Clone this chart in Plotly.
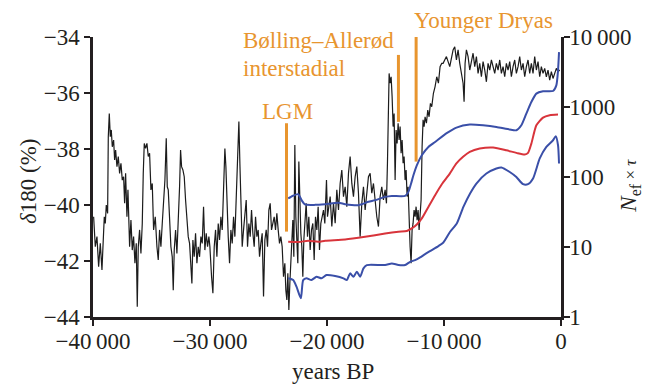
import plotly.graph_objects as go

# ---------------- data ----------------
D18O_YEARS = [
    -39946, -39804, -39661, -39519, -39377, -39234, -39149, -39035, -38949, -38864,
    -38750, -38693, -38608, -38522, -38437, -38352, -38238, -38152, -38067, -37953,
    -37839, -37725, -37611, -37497, -37384, -37298, -37213, -37099, -37013, -36871,
    -36757, -36643, -36530, -36416, -36302, -36216, -36131, -36017, -35903, -35789,
    -35704, -35618, -35505, -35391, -35277, -35163, -35049, -34935, -34821, -34679,
    -34536, -34423, -34309, -34195, -34081, -33967, -33853, -33739, -33654, -33568,
    -33455, -33341, -33227, -33142, -33056, -32942, -32828, -32714, -32601, -32515,
    -32430, -32316, -32202, -32088, -31974, -31860, -31746, -31633, -31547, -31462,
    -31348, -31234, -31120, -31006, -30892, -30778, -30664, -30551, -30437, -30323,
    -30209, -30095,
    -30009, -29866, -29752, -29639, -29525, -29411, -29297, -29183, -29069, -28955,
    -28841, -28728, -28642, -28557, -28443, -28329, -28215, -28101, -27987, -27873,
    -27760, -27646, -27532, -27446, -27361, -27247, -27133, -27019, -26905, -26792,
    -26678, -26564, -26450, -26336, -26222, -26108, -25994, -25881, -25767, -25653,
    -25539, -25425, -25311, -25197, -25083, -24970, -24856, -24742, -24628, -24514,
    -24400, -24286, -24172, -24059, -23945, -23831, -23717, -23603, -23518, -23432,
    -23347, -23261, -23176, -23090, -23005, -22920, -22834, -22749, -22664, -22578,
    -22493, -22407, -22322, -22236, -22151, -22066, -21980, -21895, -21781, -21667,
    -21553, -21439, -21325, -21211, -21097, -20984, -20870, -20756, -20642, -20528,
    -20414, -20300, -20186, -20044, -19958, -19845,
    -19730, -19588, -19445, -19303, -19161, -19018, -18876, -18734, -18591, -18449,
    -18307, -18164, -18022, -17879, -17737, -17595, -17452, -17310, -17168, -17025,
    -16883, -16741, -16598, -16456, -16314, -16171, -16029, -15887, -15744, -15602,
    -15460, -15317, -15175, -15032, -14918, -14833, -14748, -14691, -14606, -14520,
    -14435, -14349, -14264, -14179, -14093, -14008, -13922, -13837, -13751, -13666,
    -13581, -13495, -13410, -13324, -13239, -13154, -13068, -12983, -12897, -12812,
    -12727, -12641, -12556, -12470, -12385, -12299, -12214, -12129, -12043, -11958,
    -11872, -11787, -11702, -11616, -11502, -11388, -11274, -11161, -11047, -10904,
    -10762, -10619, -10477, -10335, -10192,
    -10077, -9792, -9508, -9223, -9081, -8938, -8796, -8654, -8511, -8369,
    -8284, -8198, -8084, -7942, -7799, -7657, -7515, -7372, -7230, -7088,
    -6945, -6803, -6661, -6518, -6376, -6234, -6091, -5949, -5807, -5664,
    -5522, -5380, -5237, -5095, -4953, -4810, -4668, -4526, -4383, -4241,
    -4098, -3956, -3814, -3671, -3529, -3387, -3244, -3102, -2960, -2817,
    -2675, -2533, -2390, -2248, -2106, -1963, -1821, -1679, -1536, -1394,
    -1252, -1109, -967, -824, -682, -540, -397, -255, -113,
]
D18O = [
    -40.42, -41.49, -41.13, -42.20, -41.37, -42.32, -41.49, -40.42, -40.66, -40.00,
    -40.30, -37.56, -36.73, -37.56, -37.32, -37.92, -37.68, -38.39, -38.04, -38.63,
    -38.27, -38.87, -38.51, -39.11, -38.99, -39.94, -38.87, -40.42, -39.46, -41.49,
    -40.54, -41.61, -41.13, -42.08, -41.37, -43.63, -41.49, -40.89, -41.73, -40.66,
    -38.87, -37.80, -37.98, -37.80, -38.27, -38.15, -39.46, -39.23, -40.89, -40.42,
    -41.49, -41.96, -40.89, -41.49, -40.66, -39.82, -39.11, -37.62, -39.35, -39.46,
    -40.42, -41.49, -41.85, -43.04, -41.61, -40.89, -41.73, -40.66, -39.35, -38.04,
    -38.63, -38.75, -38.99, -39.82, -40.66, -41.13, -41.37, -42.32, -42.80, -41.25,
    -41.85, -41.01, -42.08, -41.49, -41.85, -41.13, -41.37, -40.06, -41.61, -41.01,
    -41.49, -41.13,
    -41.49, -42.56, -43.15, -41.49, -40.89, -41.85, -40.66, -41.25, -40.42, -40.89,
    -39.46, -37.98, -38.63, -39.82, -41.13, -42.08, -40.89, -41.37, -40.42, -41.13,
    -39.46, -38.63, -37.02, -38.51, -39.82, -41.49, -40.89, -40.42, -39.82, -41.49,
    -40.66, -41.13, -40.18, -41.01, -41.49, -40.42, -41.13, -40.89, -41.85, -41.37,
    -41.01, -43.27, -41.25, -40.89, -41.49, -40.18, -39.94, -40.89, -40.66, -40.42,
    -40.89, -40.30, -40.89, -41.37, -41.13, -41.49, -42.56, -42.08, -43.04, -43.39,
    -42.44, -43.75, -42.80, -42.08, -41.49, -40.54, -41.85, -37.86, -40.42, -41.49,
    -42.08, -38.45, -40.06, -41.01, -41.49, -42.56, -41.25, -40.66, -39.94, -41.13,
    -40.42, -41.61, -40.89, -40.66, -41.96, -40.42, -40.89, -40.06, -41.61, -40.66,
    -40.42, -40.18, -40.66, -39.11, -40.42, -40.06,
    -39.70, -40.77, -39.94, -40.65, -39.46, -40.18, -39.23, -38.75, -39.70, -39.35,
    -40.06, -38.87, -38.27, -39.23, -39.70, -38.99, -38.63, -39.58, -41.13, -39.94,
    -39.35, -40.18, -39.46, -38.99, -38.87, -39.58, -39.23, -39.94, -40.42, -40.77,
    -39.70, -39.35, -39.82, -39.46, -39.94, -38.51, -36.61, -35.30, -35.65, -35.42,
    -36.13, -37.20, -36.73, -39.11, -37.32, -37.80, -37.08, -37.68, -37.20, -38.15,
    -37.68, -38.51, -38.27, -39.11, -38.75, -39.70, -39.35, -40.89, -41.49, -42.08,
    -40.89, -40.65, -40.18, -40.42, -40.06, -40.54, -40.18, -40.89, -40.42, -39.82,
    -37.92, -36.96, -37.20, -36.85, -37.08, -36.61, -36.85, -36.37, -36.49, -36.01,
    -35.77, -35.42, -35.65, -35.06, -34.94,
    -34.94, -34.70, -35.06, -34.46, -34.35, -34.82, -34.46, -34.94, -35.30, -35.65,
    -36.31, -34.94, -34.46, -34.70, -35.18, -34.82, -34.58, -35.06, -34.70, -35.30,
    -34.94, -35.42, -34.88, -35.18, -35.60, -34.94, -35.18, -34.82, -35.06, -35.30,
    -34.94, -35.18, -34.82, -35.30, -35.06, -35.42, -34.94, -35.18, -34.88, -35.42,
    -35.06, -34.82, -35.30, -35.06, -34.70, -35.18, -34.94, -35.42, -35.06, -34.82,
    -35.30, -34.94, -35.30, -34.70, -35.18, -34.88, -35.42, -35.06, -35.30, -35.12,
    -35.42, -35.18, -35.54, -35.24, -35.48, -35.30, -35.12, -35.24, -35.18,
]

UPPER_YEARS = [-23320, -22900, -22465, -22150, -21890, -21000, -20157, -19018, -18449,
               -17310, -16456, -15887, -15032, -14459, -13323, -13041, -12812, -12614,
               -12324, -11897, -11333, -10761, -9735, -8938, -7796, -6660, -5524,
               -4380, -3816, -3389, -2962, -2535, -2108, -1535, -681, -399, -254, -169]
UPPER_NE = [49.4, 54.0, 56.8, 46.0, 40.5, 40.0, 40.9, 42.8, 40.9,
            39.6, 44.2, 46.7, 52.0, 53.7, 53.7, 61.3, 80.8, 106,
            147, 205, 269, 317, 426, 508, 561, 548, 519,
            476, 465, 548, 805, 1178, 1553, 1675, 1692, 2040, 3340, 6090]

MEDIAN_YEARS = [-23317, -22400, -21610, -20755, -20157, -18449, -16741, -15032, -13895,
                -13182, -12755, -12324, -11897, -11333, -10761, -10189, -9508, -8938,
                -8369, -7799, -6945, -5807, -4668, -3814, -3102, -2817, -2533, -2106,
                -1536, -967, -255]
MEDIAN_NE = [11.9, 11.8, 12.3, 11.9, 12.3, 12.8, 14.0, 15.6, 16.5,
             16.9, 18.4, 21.0, 25.6, 37.4, 55.0, 78.9, 112, 156,
             194, 228, 255, 264, 241, 221, 209, 221, 300, 548,
             706, 762, 780]

LOWER_YEARS = [-23317, -22888, -22608, -22233, -22036, -21754, -21327, -20900, -20473,
               -20046, -19303, -18593, -18303, -18021, -17739, -17449, -17167, -16885,
               -16595, -15032, -14459, -13895, -13323, -12896, -12469, -12041, -11615,
               -11043, -10479, -10052, -9479, -8907, -8343, -7771, -7232, -6378, -5524,
               -5097, -4380, -3816, -3244, -2816, -2389, -1817, -1253, -681, -450,
               -254, -169]
LOWER_NE = [3.57, 3.37, 2.71, 1.85, 3.37, 3.57, 3.37, 3.76, 3.57,
            3.97, 3.85, 3.57, 3.37, 4.20, 3.76, 4.43, 3.76, 4.95,
            5.52, 5.52, 5.83, 5.52, 5.52, 6.15, 6.50, 7.11, 7.92,
            9.03, 10.3, 11.6, 16.5, 21.7, 37.4, 58.2, 80.7, 112, 132,
            137, 118, 100, 78.9, 78.9, 95.2, 184, 269, 335, 382,
            284, 156]

X_TICKS = [-40000, -30000, -20000, -10000, 0]
X_TICK_TEXT = ["\u221240\u2009000", "\u221230\u2009000", "\u221220\u2009000", "\u221210\u2009000", "0"]
Y_TICKS = [-44, -42, -40, -38, -36, -34]
Y_TICK_TEXT = ["\u221244", "\u221242", "\u221240", "\u221238", "\u221236", "\u221234"]
Y2_TICKS = [1, 10, 100, 1000, 10000]
Y2_TICK_TEXT = ["1", "10", "100", "1000", "10\u2009000"]

EVENTS = [  # (label, year, top δ, bottom δ)
    ("LGM", -23463, -37.08, -40.95),
    ("Bølling–Allerød interstadial", -13895, -34.64, -37.03),
    ("Younger Dryas", -12383, -33.96, -38.45),
]

# ---------------- styling ----------------
FONT = "Liberation Serif"
INK = "#231f20"
ORANGE = "#e8952f"
BLUE = "#3a4fa8"
RED = "#d8343b"
FS = 23
PAGE_PAD = 8  # browser default body margin

fig = go.Figure()
fig.add_trace(go.Scatter(x=D18O_YEARS, y=D18O, mode="lines",
                         line=dict(color="#1c1c1c", width=1.2), yaxis="y",
                         showlegend=False, hoverinfo="skip"))
fig.add_trace(go.Scatter(x=UPPER_YEARS, y=UPPER_NE, mode="lines",
                         line=dict(color=BLUE, width=2, shape="spline", smoothing=0.6),
                         yaxis="y2", showlegend=False))
fig.add_trace(go.Scatter(x=MEDIAN_YEARS, y=MEDIAN_NE, mode="lines",
                         line=dict(color=RED, width=2, shape="spline", smoothing=0.6),
                         yaxis="y2", showlegend=False))
fig.add_trace(go.Scatter(x=LOWER_YEARS, y=LOWER_NE, mode="lines",
                         line=dict(color=BLUE, width=2, shape="spline", smoothing=0.6),
                         yaxis="y2", showlegend=False))

for label, yr, top, bot in EVENTS:
    fig.add_shape(type="line", xref="x", yref="y", x0=yr, x1=yr, y0=top, y1=bot,
                  line=dict(color=ORANGE, width=3))

ann_font = dict(family=FONT, size=FS, color=ORANGE)
annotations = [
    dict(text="LGM", x=-23360, y=-36.65, xref="x", yref="y", xanchor="center",
         yanchor="middle", showarrow=False, font=ann_font),
    dict(text="Bølling–Allerød", x=-27358, y=-34.13, xref="x", yref="y", xanchor="left",
         yanchor="middle", showarrow=False, font=ann_font),
    dict(text="interstadial", x=-27358, y=-35.11, xref="x", yref="y", xanchor="left",
         yanchor="middle", showarrow=False, font=ann_font),
    dict(text="Younger Dryas", x=(411.7 - 93) / 468, y=(317 - 20.5) / 280,
         xref="paper", yref="paper", xanchor="left",
         yanchor="middle", showarrow=False, font=ann_font),
    dict(text="years BP", x=0.5118, y=-0.196, xref="paper", yref="paper",
         xanchor="center", yanchor="middle", showarrow=False,
         font=dict(family=FONT, size=FS, color=INK)),
    dict(text="<i>δ</i>180 (%)", x=-0.1368, y=0.486, xref="paper", yref="paper",
         xanchor="center", yanchor="middle", textangle=-90, showarrow=False,
         font=dict(family=FONT, size=FS, color=INK)),
    dict(text="<i>N</i><sub>ef</sub><span style='font-size:17px'> × <i>τ</i></span>",
         x=1.1468, y=0.468, xref="paper", yref="paper", xanchor="center",
         yanchor="middle", textangle=-90, showarrow=False,
         font=dict(family=FONT, size=FS, color=INK)),
]

axis_common = dict(showline=True, linewidth=2.5, linecolor=INK, ticks="outside",
                   ticklen=6, tickwidth=2, tickcolor=INK, showgrid=False,
                   zeroline=False, tickfont=dict(family=FONT, size=FS, color=INK),
                   automargin=False)

fig.update_layout(
    width=656 - PAGE_PAD, height=385 - PAGE_PAD,
    margin=dict(l=93 - PAGE_PAD, r=95, t=37 - PAGE_PAD, b=68),
    paper_bgcolor="white", plot_bgcolor="white",
    showlegend=False,
    xaxis=dict(range=[-40000, 0], tickvals=X_TICKS, ticktext=X_TICK_TEXT,
               ticklabelstandoff=-4, **axis_common),
    yaxis=dict(range=[-44, -34], tickvals=Y_TICKS, ticktext=Y_TICK_TEXT, **axis_common),
    yaxis2=dict(overlaying="y", side="right", type="log", range=[0, 4],
                tickvals=Y2_TICKS, ticktext=Y2_TICK_TEXT, ticklabelstandoff=-5,
                **axis_common),
    annotations=annotations,
)

fig.write_html("out.html")
